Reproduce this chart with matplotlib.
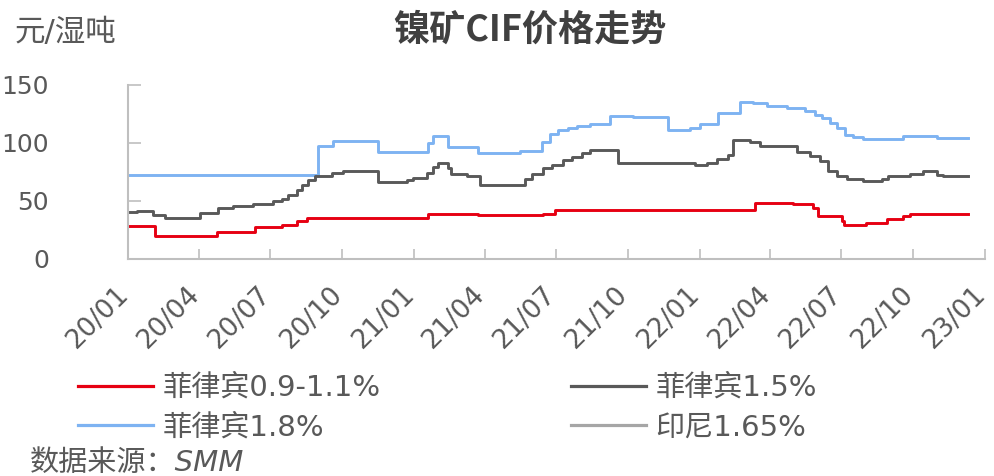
import matplotlib
matplotlib.use("Agg")
import matplotlib.pyplot as plt
import matplotlib.dates as mdates
import matplotlib.transforms as mtransforms
from matplotlib.lines import Line2D
import pandas as pd

plt.rcParams['font.family'] = ['DejaVu Sans', 'Noto Sans CJK SC']

# 菲律宾0.9-1.1% (step change points, last entry = end of data)
red_dates = ["2020-01-01", "2020-02-04", "2020-04-24", "2020-06-11", "2020-07-16",
             "2020-08-04", "2020-08-17", "2021-01-19", "2021-03-24", "2021-06-15",
             "2021-06-30", "2022-03-13", "2022-04-30", "2022-05-26", "2022-06-01",
             "2022-07-02", "2022-07-05", "2022-08-02", "2022-08-29", "2022-09-18",
             "2022-09-27", "2022-12-10"]
red_vals = [28, 20, 23, 27.5, 29, 33, 35.5, 39, 37.5, 39, 42.5, 48.5, 47, 44, 37,
            33, 29, 31, 34, 37, 38.5, 38.5]

# 菲律宾1.5%
grey_dates = ["2020-01-01", "2020-01-12", "2020-02-02", "2020-02-17", "2020-04-02",
              "2020-04-25", "2020-05-14", "2020-06-09", "2020-07-04", "2020-07-16",
              "2020-07-24", "2020-08-04", "2020-08-11", "2020-08-18", "2020-08-27",
              "2020-09-18", "2020-10-02", "2020-11-16", "2020-12-23", "2020-12-31",
              "2021-01-17", "2021-01-25", "2021-01-31", "2021-02-13", "2021-02-17",
              "2021-03-10", "2021-03-26", "2021-05-23", "2021-06-01", "2021-06-15",
              "2021-06-26", "2021-07-10", "2021-07-22", "2021-08-04", "2021-08-14",
              "2021-09-19", "2021-12-26", "2022-01-11", "2022-01-23", "2022-02-06",
              "2022-02-13", "2022-03-07", "2022-03-19", "2022-05-06", "2022-05-22",
              "2022-06-04", "2022-06-14", "2022-06-26", "2022-07-09", "2022-07-29",
              "2022-08-22", "2022-08-30", "2022-09-27", "2022-10-14", "2022-11-01",
              "2022-11-08", "2022-12-10"]
grey_vals = [40, 41, 38, 35.5, 39.5, 43.5, 46, 47.5, 49.5, 52, 55, 59.5, 64, 68, 71.5,
             74, 76, 66, 68, 69.5, 74, 79, 83, 78, 73.5, 71, 64, 68.5, 73.5, 78,
             81, 85, 88, 91, 94, 82.5, 81, 82.5, 86, 89.5, 102.5, 101, 97, 92.5, 89,
             84, 75.5, 71, 69, 67.5, 69, 71, 73, 76, 72.5, 71.5, 71.5]

# 菲律宾1.8%
blue_dates = ["2020-01-01", "2020-08-31", "2020-09-19", "2020-11-16", "2021-01-19",
              "2021-01-25", "2021-02-13", "2021-03-24", "2021-05-17", "2021-06-13",
              "2021-06-24", "2021-07-04", "2021-07-17", "2021-07-28", "2021-08-14",
              "2021-09-08", "2021-10-08", "2021-11-22", "2021-12-20", "2022-01-02",
              "2022-01-25", "2022-02-22", "2022-03-10", "2022-03-28", "2022-04-23",
              "2022-05-16", "2022-05-29", "2022-06-07", "2022-06-17", "2022-06-26",
              "2022-07-06", "2022-07-16", "2022-07-29", "2022-09-18", "2022-11-01",
              "2022-12-10"]
blue_vals = [72, 97, 101.5, 92, 99.5, 106, 96, 91.5, 93, 101, 108, 111, 113, 114.5,
             116, 123.5, 122.5, 111, 112.5, 116, 125.5, 135.5, 134.5, 132, 130, 127,
             124, 121.5, 117, 112.5, 107, 105, 103.5, 105.5, 104, 104]

# 印尼1.65% (no visible data)
indo_dates = []
indo_vals = []

labels = ["菲律宾0.9-1.1%", "菲律宾1.8%", "菲律宾1.5%", "印尼1.65%"]
colors = ["#e60012", "#7eb3f2", "#595959", "#a6a6a6"]
tick_dates = pd.date_range("2020-01-01", "2023-01-01", freq="QS")

fig = plt.figure(figsize=(9.95, 4.76), dpi=100)
ax = fig.add_axes([0.1286, 0.456, 0.8613, 0.366])

series = [(red_dates, red_vals), (blue_dates, blue_vals),
          (grey_dates, grey_vals), (indo_dates, indo_vals)]
handles = []
for (d, v), c, lab in zip(series, colors, labels):
    ax.plot(pd.to_datetime(d), v, drawstyle="steps-post", color=c, lw=2.1, label=lab)
    handles.append(Line2D([], [], color=c, lw=2.3))

ax.set_ylim(0, 150)
ax.set_xlim(tick_dates[0], tick_dates[-1])
ax.set_yticks([0, 50, 100, 150])
ax.set_xticks(tick_dates)
ax.xaxis.set_major_formatter(mdates.DateFormatter("%y/%m"))

for s in ["top", "right"]:
    ax.spines[s].set_visible(False)
for s in ["left", "bottom"]:
    ax.spines[s].set_color("#bfbfbf")
    ax.spines[s].set_linewidth(1.5)

ax.tick_params(axis="y", direction="in", length=9, width=1.2, color="#bfbfbf",
               labelsize=18, labelcolor="#595959", pad=57)
ax.tick_params(axis="x", direction="in", length=7, width=1.2, color="#bfbfbf",
               labelsize=19, labelcolor="#595959", pad=23)
shift = mtransforms.ScaledTranslation(-4 / 100, 0, fig.dpi_scale_trans)
for lbl in ax.get_xticklabels():
    lbl.set_rotation(45)
    lbl.set_ha("right")
    lbl.set_va("center")
    lbl.set_rotation_mode("anchor")
    lbl.set_transform(lbl.get_transform() + shift)

fig.text(0.533, 0.937, "镍矿CIF价格走势", ha="center", va="center", fontsize=26,
         fontweight="bold", color="#404040", family=["Noto Sans CJK SC", "DejaVu Sans"])
fig.text(15 / 995, 1 - 33 / 476, "元/湿吨", ha="left", va="center", fontsize=22,
         color="#595959")

fig.legend(handles, labels, ncol=2, loc="upper left",
           bbox_to_anchor=(78 / 995, 1 - 374 / 476), frameon=False,
           fontsize=21, labelcolor="#595959", handlelength=2.57, handletextpad=0.34,
           columnspacing=6.5, labelspacing=0.4, borderpad=0, borderaxespad=0)

fig.text(30 / 995, 1 - 463 / 476, "数据来源：SMM", ha="left", va="center",
         fontsize=21, style="italic", color="#595959")

fig.savefig("out.png", dpi=100)
